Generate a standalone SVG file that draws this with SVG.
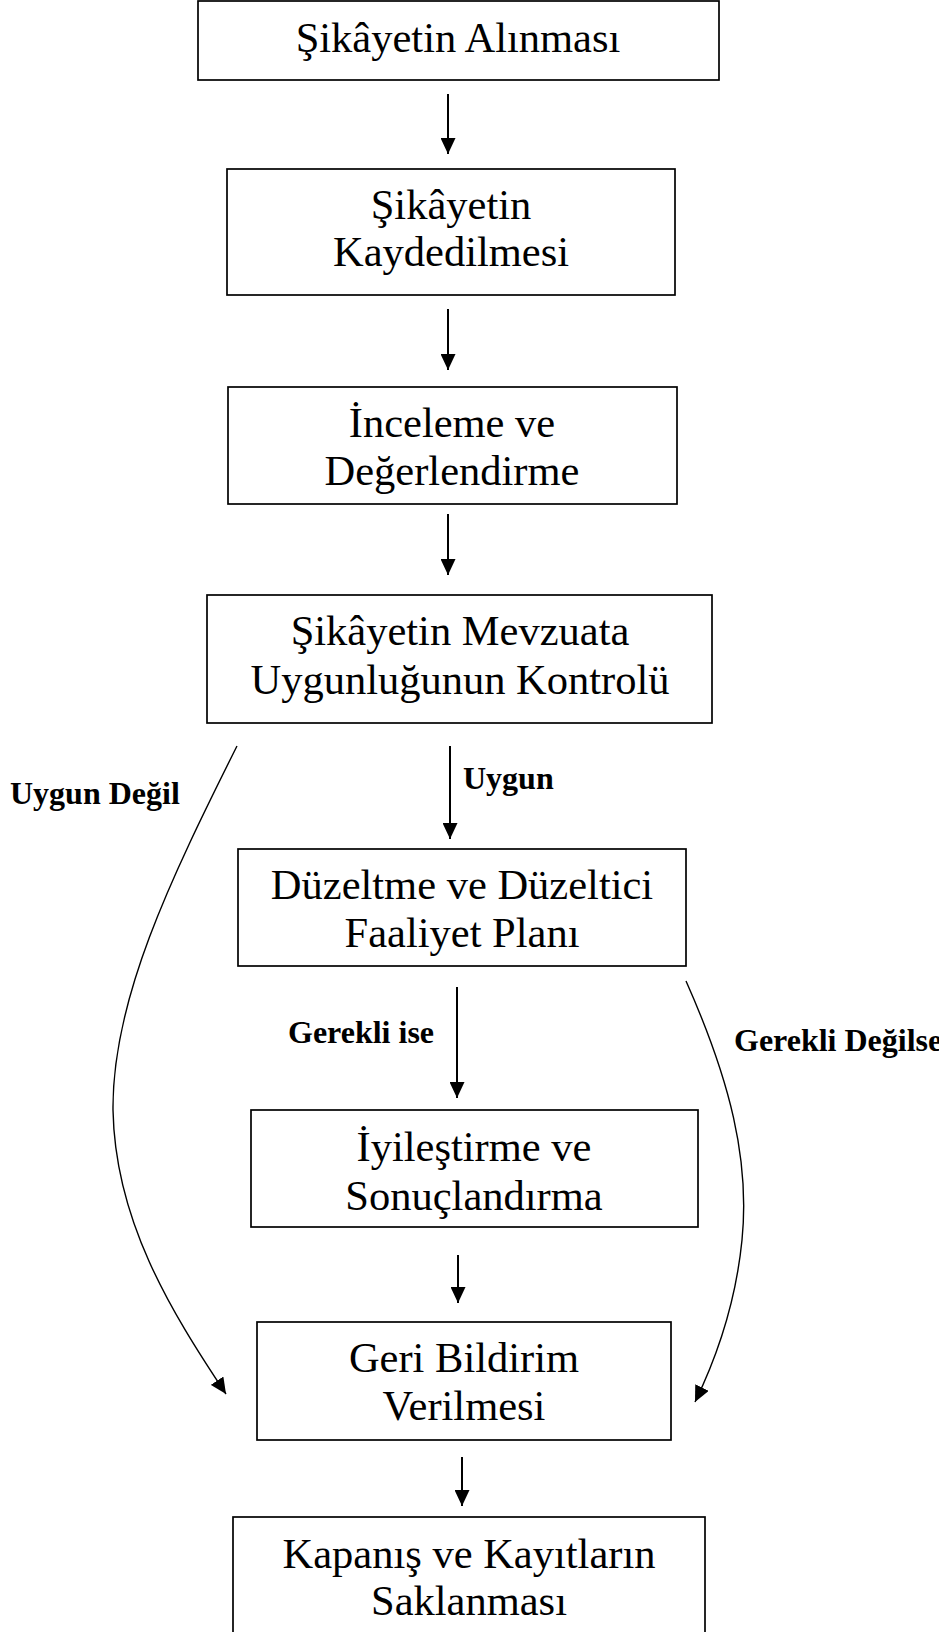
<svg xmlns="http://www.w3.org/2000/svg" width="939" height="1632" viewBox="0 0 939 1632">
<style>
.box{fill:#fff;stroke:#000;stroke-width:1.7}
.t{font-family:"Liberation Serif","Times New Roman",serif;font-size:42.5px;fill:#000;text-anchor:middle}
.lbl{font-family:"Liberation Serif","Times New Roman",serif;font-size:32px;font-weight:bold;fill:#000}
.ln{fill:none;stroke:#000;stroke-width:2}
.cv{fill:none;stroke:#000;stroke-width:1.4}
</style>
<defs>
<marker id="ah" markerUnits="userSpaceOnUse" markerWidth="16" markerHeight="15" refX="16" refY="7.5" orient="auto">
<path d="M0,0 L16,7.5 L0,15 z" fill="#000"/>
</marker>
</defs>
<rect width="939" height="1632" fill="#fff"/>
<g id="connectors">
<line class="ln" x1="448" y1="94" x2="448" y2="154" marker-end="url(#ah)"/>
<line class="ln" x1="448" y1="309" x2="448" y2="370" marker-end="url(#ah)"/>
<line class="ln" x1="448" y1="514" x2="448" y2="575" marker-end="url(#ah)"/>
<line class="ln" x1="450" y1="746" x2="450" y2="839" marker-end="url(#ah)"/>
<line class="ln" x1="457" y1="987" x2="457" y2="1098" marker-end="url(#ah)"/>
<line class="ln" x1="458" y1="1255" x2="458" y2="1303" marker-end="url(#ah)"/>
<line class="ln" x1="462" y1="1457" x2="462" y2="1506" marker-end="url(#ah)"/>
<path class="cv" d="M237,746 C170,880 112,1000 113,1110 C115,1220 170,1310 226,1394" marker-end="url(#ah)"/>
<path class="cv" d="M686,981 C730,1080 750,1160 742,1240 C735,1310 713,1365 695,1402" marker-end="url(#ah)"/>
<text class="lbl" x="10" y="804">Uygun Değil</text>
<text class="lbl" x="463" y="789">Uygun</text>
<text class="lbl" x="288" y="1043">Gerekli ise</text>
<text class="lbl" x="734" y="1051">Gerekli Değilse</text>
</g>
<g id="n1"><rect class="box" x="198" y="1" width="521" height="79"/><text class="t" x="458" y="52">Şikâyetin Alınması</text></g>
<g id="n2"><rect class="box" x="227" y="169" width="448" height="126"/><text class="t" x="451" y="219">Şikâyetin</text><text class="t" x="451" y="266">Kaydedilmesi</text></g>
<g id="n3"><rect class="box" x="228" y="387" width="449" height="117"/><text class="t" x="452" y="437">İnceleme ve</text><text class="t" x="452" y="485">Değerlendirme</text></g>
<g id="n4"><rect class="box" x="207" y="595" width="505" height="128"/><text class="t" x="460" y="645">Şikâyetin Mevzuata</text><text class="t" x="460" y="694">Uygunluğunun Kontrolü</text></g>
<g id="n5"><rect class="box" x="238" y="849" width="448" height="117"/><text class="t" x="462" y="899">Düzeltme ve Düzeltici</text><text class="t" x="462" y="947">Faaliyet Planı</text></g>
<g id="n6"><rect class="box" x="251" y="1110" width="447" height="117"/><text class="t" x="474" y="1161">İyileştirme ve</text><text class="t" x="474" y="1210">Sonuçlandırma</text></g>
<g id="n7"><rect class="box" x="257" y="1322" width="414" height="118"/><text class="t" x="464" y="1372">Geri Bildirim</text><text class="t" x="464" y="1420">Verilmesi</text></g>
<g id="n8"><rect class="box" x="233" y="1517" width="472" height="125"/><text class="t" x="469" y="1568">Kapanış ve Kayıtların</text><text class="t" x="469" y="1615">Saklanması</text></g>
</svg>
